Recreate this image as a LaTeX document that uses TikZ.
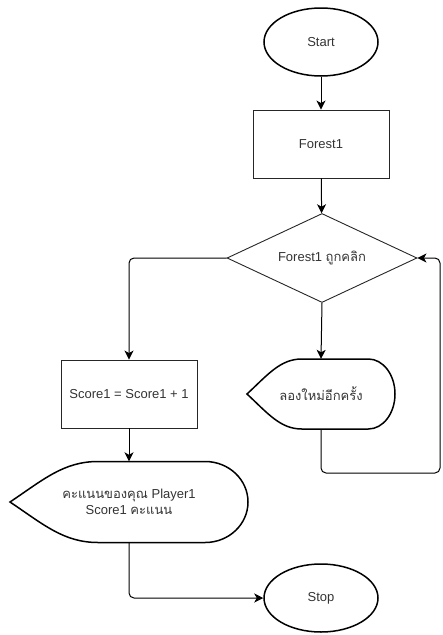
\documentclass[tikz,border=0pt]{standalone}
\usepackage{fontspec}
\setmainfont{Liberation Sans}
\newfontfamily\thaifont[Script=Thai]{Loma}
\usetikzlibrary{shapes.geometric,arrows.meta}
\definecolor{txtgray}{HTML}{333333}
\newcommand\displayline[3]{%
  \draw[shapeline,shift={(#1.center)}] ({-#2},0)
    .. controls ({-0.72*#2},{0.55*#3}) and ({-0.55*#2},#3) .. ({-0.26*#2},#3)
    -- ({0.64*#2},#3)
    .. controls ({0.839*#2},#3) and (#2,{0.552*#3}) .. (#2,0)
    .. controls (#2,{-0.552*#3}) and ({0.839*#2},{-#3}) .. ({0.64*#2},{-#3})
    -- ({-0.26*#2},{-#3})
    .. controls ({-0.55*#2},{-#3}) and ({-0.72*#2},{-0.55*#3}) .. cycle;}
\begin{document}
\begin{tikzpicture}[x=1pt,y=-1pt,
  shapeline/.style={line width=1.5pt,draw=black},
  thinline/.style={line width=0.9pt,draw=black!85},
  conn/.style={line width=1pt,rounded corners=5pt,-{Stealth[length=9pt,width=9pt,inset=2.5pt]}},
  label/.style={text=txtgray,font=\fontsize{13}{16}\selectfont,inner sep=0pt,align=center},
  terminal/.style={label,ellipse,shapeline,minimum width=114pt,minimum height=68pt},
  box/.style={label,rectangle,thinline,minimum width=136pt,minimum height=68pt},
  decision/.style={label,diamond,thinline,aspect=2.1,minimum width=190pt,minimum height=89pt}]
\useasboundingbox (0,0) rectangle (443,635);
\node[terminal] (start) at (321,42) {Start};
\node[box] (forest) at (321,144) {Forest1};
\node[decision] (clicked) at (322,258) {Forest1 {\thaifont ถูกคลิก}};
\node[box] (addscore) at (129,394) {Score1 = Score1 + 1};
\node[label,minimum width=148pt,minimum height=70pt] (retry) at (321,394) {\thaifont ลองใหม่อีกครั้ง};
\node[label,minimum width=238pt,minimum height=81pt] (result) at (129,502) {{\thaifont คะแนนของคุณ} Player1\\Score1 {\thaifont คะแนน}};
\node[terminal] (stop) at (321,598) {Stop};
\coordinate (loopcorner) at (440,473);
\displayline{retry}{74}{35}
\displayline{result}{119}{40.5}
\draw[conn] (start) -- (forest);
\draw[conn] (forest) -- (clicked);
\draw[conn] (clicked.west) -| (addscore.north);
\draw[conn] (clicked.south) -- (retry.north);
\draw[conn] (retry.south) |- (loopcorner) |- (clicked.east);
\draw[conn] (addscore) -- (result.north);
\draw[conn] (result.south) |- (stop.west);
\end{tikzpicture}
\end{document}
